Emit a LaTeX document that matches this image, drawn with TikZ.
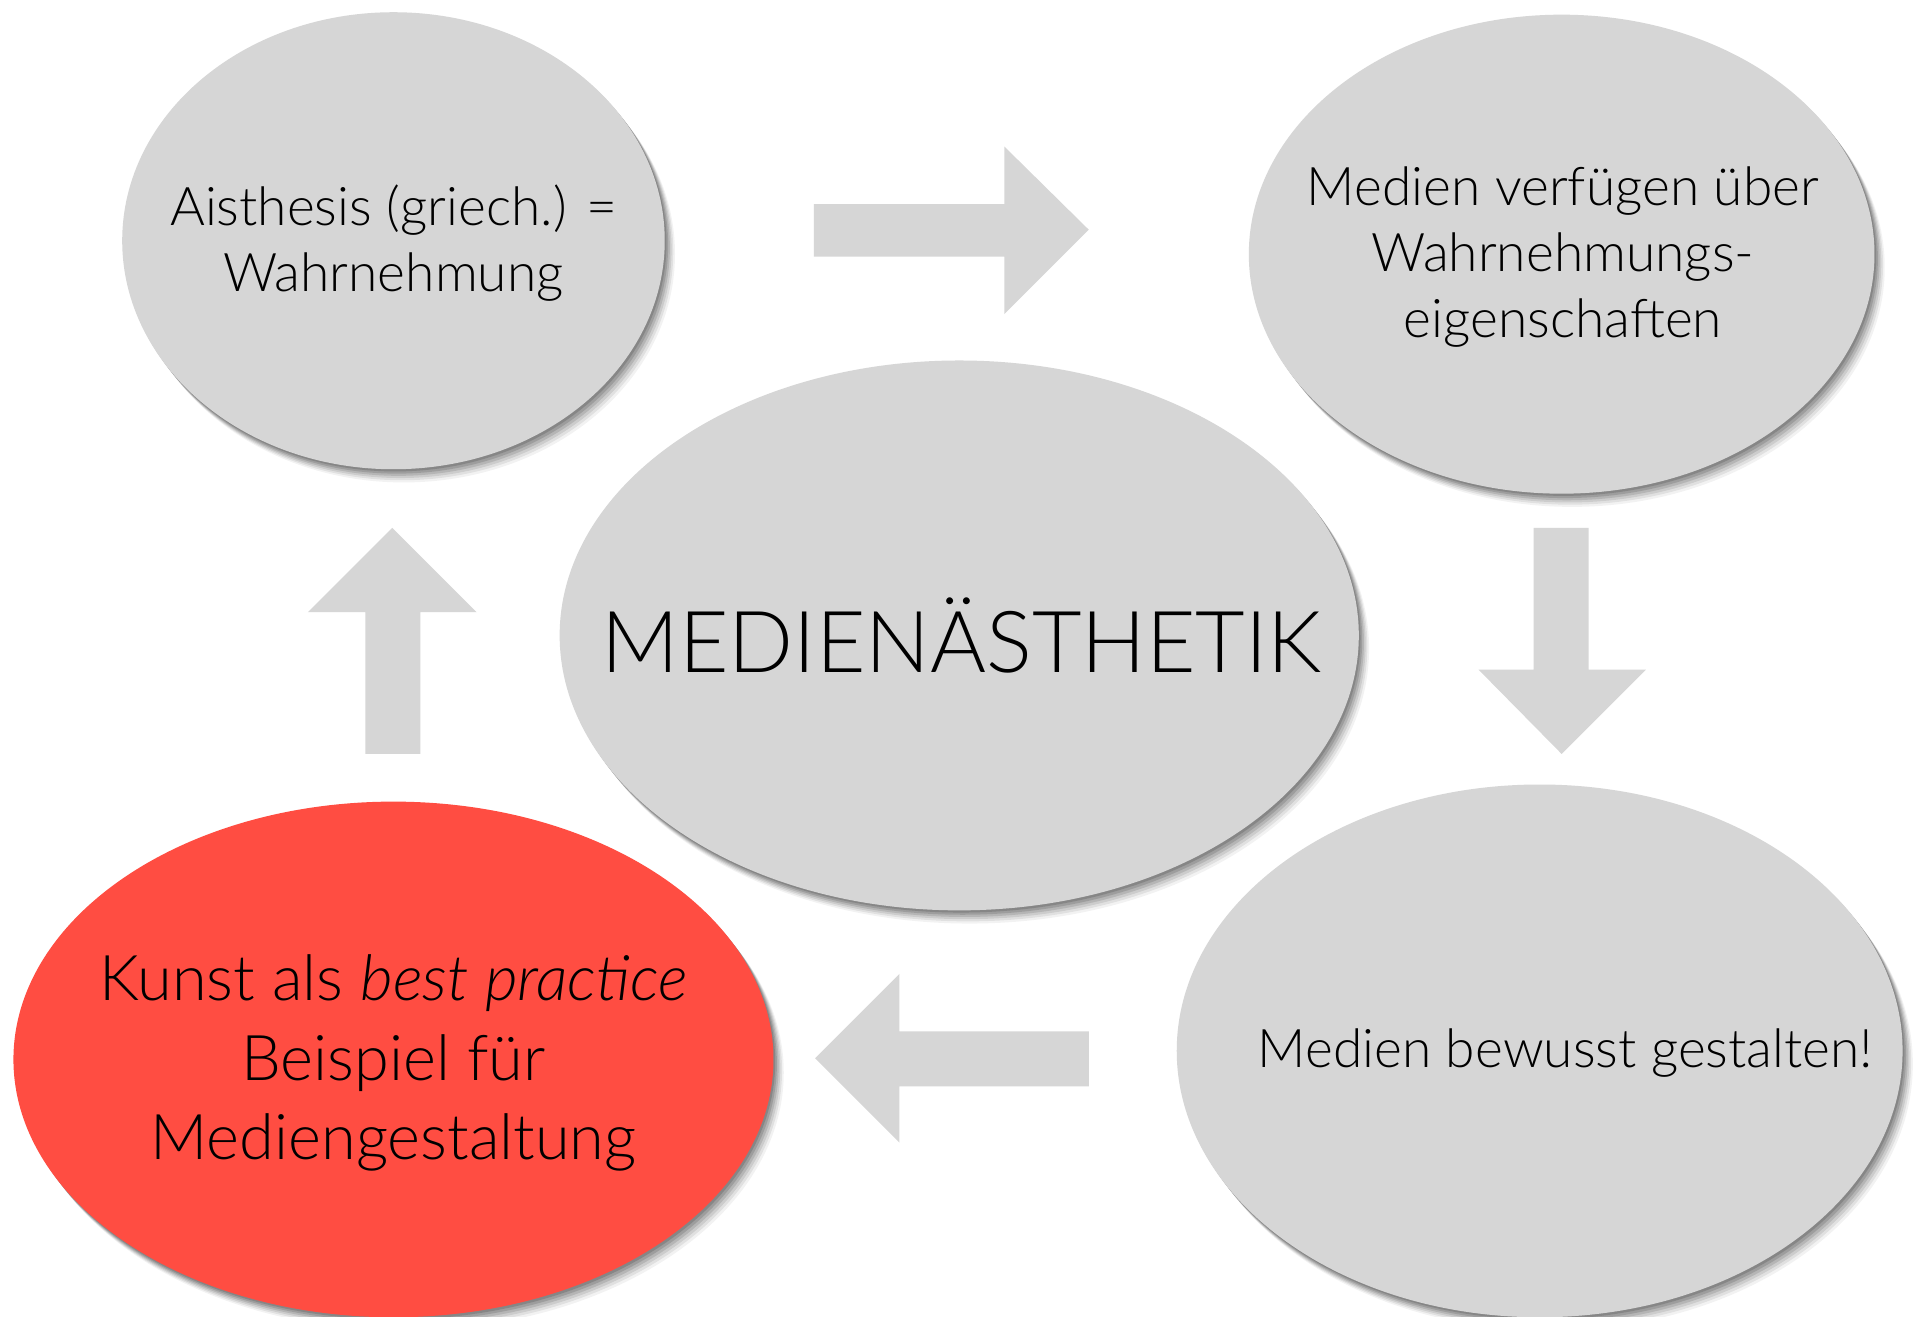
\documentclass[tikz,border=0pt]{standalone}
\usepackage{fontspec}
\IfFontExistsTF{Lato Light}{\setmainfont{Lato Light}}{\setmainfont{Lato}}
\usetikzlibrary{shapes.geometric,shadows}
\definecolor{bubble}{HTML}{D6D6D6}
\definecolor{redbubble}{HTML}{FF4D42}
\begin{document}
\begin{tikzpicture}[x=0.5pt,y=-0.5pt,
  softshadow/.style={
    drop shadow={shadow xshift=0.7pt,shadow yshift=-0.9pt,opacity=.14,fill=black},
    drop shadow={shadow xshift=1.4pt,shadow yshift=-1.8pt,opacity=.13,fill=black},
    drop shadow={shadow xshift=2.1pt,shadow yshift=-2.7pt,opacity=.11,fill=black},
    drop shadow={shadow xshift=2.8pt,shadow yshift=-3.6pt,opacity=.09,fill=black},
    drop shadow={shadow xshift=3.5pt,shadow yshift=-4.5pt,opacity=.07,fill=black},
    drop shadow={shadow xshift=4.2pt,shadow yshift=-5.4pt,opacity=.05,fill=black}},
  bubblenode/.style={ellipse,fill=bubble,softshadow,inner sep=0pt},
  bubbletext/.style={align=center,inner sep=0pt,font=\fontsize{21.8}{27}\selectfont},
  blockarrow/.style={fill=bubble}]
\useasboundingbox (0,0) rectangle (1568,1077);
\fill[white] (0,0) rectangle (1568,1077);
% ellipses
\node[bubblenode,minimum width=222pt,minimum height=187pt] (aisth) at (322,197) {};
\node[bubblenode,minimum width=256pt,minimum height=196pt] (eigen) at (1278,208) {};
\node[bubblenode,minimum width=327pt,minimum height=225pt] (center) at (785,520) {};
\node[bubblenode,minimum width=297pt,minimum height=218pt] (gestalt) at (1260,860) {};
\node[bubblenode,fill=redbubble,minimum width=311pt,minimum height=211pt] (kunst) at (322,867) {};
% texts
\node[bubbletext] (aisthtext) at (322,199) {Aisthesis (griech.) =\\Wahrnehmung};
\node[bubbletext] (eigentext) at (1279,210) {Medien verfügen über\\Wahrnehmungs-\\eigenschaften};
\node[bubbletext,font=\fontsize{35}{40}\selectfont] (centertext) at (787,520) {MEDIENÄSTHETIK};
\node[bubbletext] (gestalttext) at (1281,862) {Medien bewusst gestalten!};
\node[bubbletext,font=\fontsize{25.8}{32.5}\selectfont] (kunsttext) at (322,870)
  {Kunst als \textit{best practice}\\Beispiel für\\Mediengestaltung};
% block arrows
\fill[blockarrow] (666,167) -- (822,167) -- (822,120) -- (891,188) -- (822,257) -- (822,210) -- (666,210) -- cycle;
\fill[blockarrow] (1255,432) -- (1300,432) -- (1300,548) -- (1347,548) -- (1278,617) -- (1210,548) -- (1255,548) -- cycle;
\fill[blockarrow] (891,844) -- (736,844) -- (736,797) -- (667,866) -- (736,935) -- (736,889) -- (891,889) -- cycle;
\fill[blockarrow] (299,617) -- (299,501) -- (252,501) -- (321,432) -- (390,501) -- (344,501) -- (344,617) -- cycle;
\end{tikzpicture}
\end{document}
